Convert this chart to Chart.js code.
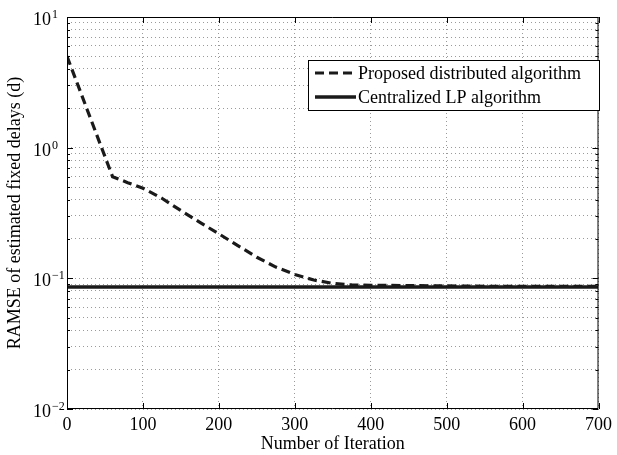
<!DOCTYPE html>
<html><head><meta charset="utf-8">
<script src="https://cdn.jsdelivr.net/npm/chart.js@4.4.1/dist/chart.umd.min.js"></script>
<style>html,body{margin:0;padding:0;background:#fff}#wrap{width:617px;height:455px;position:relative}</style>
</head><body><div id="wrap"><canvas id="c" width="617" height="455"></canvas></div>
<script>
// ---- data ----
const iterations = [0, 60, 80, 100, 125, 150, 175, 200, 225, 250, 275, 300, 325, 350, 375, 400, 450, 500, 550, 600, 650, 700];
const proposedRamse = [5.0, 0.60, 0.54, 0.49, 0.41, 0.33, 0.268, 0.219, 0.178, 0.145, 0.122, 0.107, 0.097, 0.0915, 0.089, 0.0885, 0.088, 0.0875, 0.087, 0.0868, 0.0867, 0.0867];
const centralizedIter = [0, 700];
const centralizedRamse = [0.086, 0.086];
const seriesNames = ['Proposed distributed algorithm', 'Centralized LP algorithm'];
const xTickValues = [0, 100, 200, 300, 400, 500, 600, 700];
const yMajorValues = [0.01, 0.1, 1, 10];
const yMajorBase = '10';
const yMajorExponents = ['\u22122', '\u22121', '0', '1'];
const xTitle = 'Number of Iteration';
const yTitle = 'RAMSE of estimated fixed delays (d)';

const FONT = "'Liberation Serif', 'Times New Roman', serif";
const INK = '#1a1a1a';

function majorIndex(v) {
  return yMajorValues.findIndex(m => Math.abs(v - m) / m < 1e-6);
}

const frame = {
  id: 'frame',
  afterDatasetsDraw(chart) {
    const {ctx, chartArea: a, scales: {x, y}} = chart;
    ctx.save();
    ctx.strokeStyle = '#000';
    ctx.lineWidth = 1;
    ctx.beginPath();
    ctx.rect(a.left + 0.5, a.top + 0.5, a.right - a.left - 1, a.bottom - a.top - 1);
    ctx.stroke();
    ctx.beginPath();
    xTickValues.forEach(v => {
      const px = Math.round(x.getPixelForValue(v)) + 0.5;
      ctx.moveTo(px, a.bottom); ctx.lineTo(px, a.bottom - 6);
      ctx.moveTo(px, a.top); ctx.lineTo(px, a.top + 6);
    });
    y.ticks.forEach(t => {
      const py = Math.round(y.getPixelForValue(t.value)) + 0.5;
      const len = majorIndex(t.value) >= 0 ? 6 : 3;
      ctx.moveTo(a.left, py); ctx.lineTo(a.left + len, py);
      ctx.moveTo(a.right, py); ctx.lineTo(a.right - len, py);
    });
    ctx.stroke();
    // y tick labels: base with superscript exponent
    ctx.fillStyle = '#000';
    ctx.textAlign = 'left';
    ctx.textBaseline = 'alphabetic';
    yMajorValues.forEach((v, i) => {
      const py = y.getPixelForValue(v);
      ctx.font = '18px ' + FONT;
      ctx.fillText(yMajorBase, 33, py + 8);
      const w = ctx.measureText(yMajorBase).width;
      ctx.font = '12px ' + FONT;
      ctx.fillText(yMajorExponents[i], 33 + w + 1, py + 1);
    });
    ctx.restore();
  },
  afterDraw(chart) {
    const {ctx} = chart;
    const bx = 308, by = 60, bw = 291, bh = 50;
    ctx.save();
    ctx.fillStyle = '#fff';
    ctx.fillRect(bx, by, bw, bh);
    ctx.strokeStyle = '#000';
    ctx.lineWidth = 1;
    ctx.strokeRect(bx + 0.5, by + 0.5, bw, bh);
    const rows = [73, 97];
    chart.data.datasets.forEach((ds, i) => {
      ctx.strokeStyle = ds.borderColor;
      ctx.lineWidth = ds.borderWidth;
      ctx.setLineDash(ds.borderDash || []);
      ctx.beginPath();
      ctx.moveTo(315, rows[i]); ctx.lineTo(356, rows[i]);
      ctx.stroke();
      ctx.setLineDash([]);
      ctx.fillStyle = '#000';
      ctx.font = '18px ' + FONT;
      ctx.textBaseline = 'middle';
      ctx.textAlign = 'left';
      ctx.fillText(ds.label, 358, rows[i] + 1);
    });
    ctx.restore();
  }
};

new Chart(document.getElementById('c'), {
  type: 'line',
  data: {
    datasets: [
      {
        label: seriesNames[0],
        data: iterations.map((v, i) => ({x: v, y: proposedRamse[i]})),
        borderColor: INK, borderWidth: 3.2, borderDash: [9, 5],
        pointRadius: 0, tension: 0, fill: false
      },
      {
        label: seriesNames[1],
        data: centralizedIter.map((v, i) => ({x: v, y: centralizedRamse[i]})),
        borderColor: INK, borderWidth: 3.5,
        pointRadius: 0, tension: 0, fill: false
      }
    ]
  },
  options: {
    responsive: false,
    animation: false,
    devicePixelRatio: 1,
    layout: {padding: {top: 17, right: 14, left: 0, bottom: 0}},
    plugins: {legend: {display: false}, tooltip: {enabled: false}},
    scales: {
      x: {
        type: 'linear', min: 0, max: 700,
        afterFit(s) { s.height = 46; },
        afterBuildTicks(s) { s.ticks = xTickValues.map(v => ({value: v})); },
        ticks: {font: {family: FONT, size: 18}, color: '#000', padding: 5, maxRotation: 0},
        grid: {color: '#9a9a9a', lineWidth: 1, drawTicks: false},
        border: {display: false, dash: [1, 3]},
        title: {display: true, text: xTitle, font: {family: FONT, size: 18}, color: '#000', padding: {top: 0, bottom: 0}}
      },
      y: {
        type: 'logarithmic', min: 0.01, max: 10,
        afterFit(s) { s.width = 67; },
        afterBuildTicks(s) {
          s.ticks = s.ticks.filter(t => {
            const e = Math.floor(Math.log10(t.value) + 1e-9);
            const m = t.value / Math.pow(10, e);
            return Math.abs(m - Math.round(m)) < 1e-6;
          });
        },
        ticks: {
          display: false,
          autoSkip: false,
          callback(v) {
            const i = majorIndex(v);
            return i >= 0 ? yMajorBase + yMajorExponents[i] : '';
          }
        },
        grid: {color: '#9a9a9a', lineWidth: 1, drawTicks: false},
        border: {display: false, dash: [1, 3]},
        title: {display: true, text: yTitle, font: {family: FONT, size: 18}, color: '#000', padding: {top: 4, bottom: 0}}
      }
    }
  },
  plugins: [frame]
});
</script>
</body></html>
